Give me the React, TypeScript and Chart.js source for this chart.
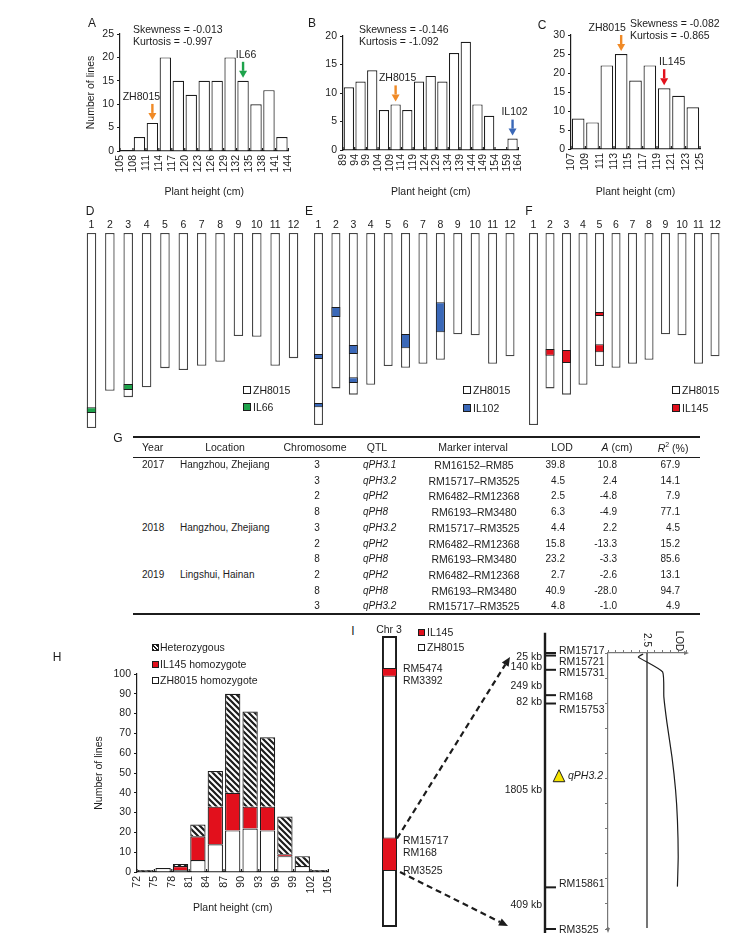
import React, { useEffect, useRef } from 'react';
import { Chart, registerables } from 'chart.js';

Chart.register(...registerables);

const FONT = '"Liberation Sans", Arial, Helvetica, sans-serif';
const INK = '#1c1c1c';
const ORANGE = '#f08a26';
const GREEN = '#1ea34b';
const BLUE = '#3a68b8';
const RED = '#e2101c';
const YELLOW = '#f6e400';

// ---------- Panel A ----------
const binEdgesA = [105, 108, 111, 114, 117, 120, 123, 126, 129, 132, 135, 138, 141, 144];
const linesA = [0, 3, 6, 20, 15, 12, 15, 15, 20, 15, 10, 13, 3];
const parentLabelsA = ['ZH8015', 'IL66'];
const parentBinsA = [111, 132];

// ---------- Panel B ----------
const binEdgesB = [89, 94, 99, 104, 109, 114, 119, 124, 129, 134, 139, 144, 149, 154, 159, 164];
const linesB = [11, 12, 14, 7, 8, 7, 12, 13, 12, 17, 19, 8, 6, 0, 2];
const parentLabelsB = ['ZH8015', 'IL102'];
const parentBinsB = [109, 159];

// ---------- Panel C ----------
const binEdgesC = [107, 109, 111, 113, 115, 117, 119, 121, 123, 125];
const linesC = [8, 7, 22, 25, 18, 22, 16, 14, 11];
const parentLabelsC = ['ZH8015', 'IL145'];
const parentBinsC = [113, 119];

// ---------- Panels D-F (chromosomes, Mb) ----------
const chromosomes = ['1', '2', '3', '4', '5', '6', '7', '8', '9', '10', '11', '12'];
const chrLengthMb = [43.0, 34.8, 36.2, 34.0, 29.8, 30.2, 29.3, 28.4, 22.7, 22.9, 29.3, 27.6];
const segChrIL66 = ['1', '3'];
const segStartIL66 = [38.4, 33.3];
const segEndIL66 = [39.7, 34.6];
const segChrIL102 = ['1', '1', '2', '3', '3', '6', '8'];
const segStartIL102 = [27.1, 38.1, 16.6, 25.1, 32.3, 22.6, 15.5];
const segEndIL102 = [28.2, 39.0, 18.8, 27.1, 33.6, 25.8, 22.2];
const segChrIL145 = ['2', '3', '5', '5'];
const segStartIL145 = [26.0, 26.2, 17.7, 24.9];
const segEndIL145 = [27.5, 29.1, 18.6, 26.7];

// ---------- Panel G (table) ----------
const tblYear = ['2017', '', '', '', '2018', '', '', '2019', '', ''];
const tblLocation = ['Hangzhou, Zhejiang', '', '', '', 'Hangzhou, Zhejiang', '', '', 'Lingshui, Hainan', '', ''];
const tblChromosome = ['3', '3', '2', '8', '3', '2', '8', '2', '8', '3'];
const tblQTL = ['qPH3.1', 'qPH3.2', 'qPH2', 'qPH8', 'qPH3.2', 'qPH2', 'qPH8', 'qPH2', 'qPH8', 'qPH3.2'];
const tblMarker = ['RM16152–RM85', 'RM15717–RM3525', 'RM6482–RM12368', 'RM6193–RM3480', 'RM15717–RM3525',
  'RM6482–RM12368', 'RM6193–RM3480', 'RM6482–RM12368', 'RM6193–RM3480', 'RM15717–RM3525'];
const tblLOD = ['39.8', '4.5', '2.5', '6.3', '4.4', '15.8', '23.2', '2.7', '40.9', '4.8'];
const tblA = ['10.8', '2.4', '-4.8', '-4.9', '2.2', '-13.3', '-3.3', '-2.6', '-28.0', '-1.0'];
const tblR2 = ['67.9', '14.1', '7.9', '77.1', '4.5', '15.2', '85.6', '13.1', '94.7', '4.9'];

// ---------- Panel H ----------
const binEdgesH = [72, 75, 78, 81, 84, 87, 90, 93, 96, 99, 102, 105];
const zh8015HomH = [0, 2, 1, 6, 14, 21, 22, 21, 8, 3, 0];
const il145HomH = [0, 0, 2, 12, 19, 19, 11, 12, 1, 0, 0];
const heteroH = [1, 0, 1, 6, 18, 50, 48, 35, 19, 5, 1];

// ---------- Panel I ----------
const chr3LengthMb = 36.4;
const chr3SegStart = [4.0, 25.2];
const chr3SegEnd = [5.1, 29.4];
const chr3LabelNames = ['RM5474', 'RM3392', 'RM15717', 'RM168', 'RM3525'];
const chr3LabelMb = [4.1, 5.7, 25.6, 27.2, 29.4];
const markerNames = ['RM15717', 'RM15721', 'RM15731', 'RM168', 'RM15753', 'RM15861', 'RM3525'];
const markerGapsKb = [25, 140, 249, 82, 1805, 409];
const lodPositionKb = [10, 40, 186, 431, 686, 1020, 1343, 1637, 2000, 2294];
const lodScores = [2.25, 1.95, 3.5, 3.58, 3.78, 4.1, 4.33, 4.45, 4.5, 4.45];
const lodThreshold = 2.5;
const qtlPeakKb = 1210;

// ---------- layout ----------
type Rect = { left: number; top: number; width: number; height: number };
type Area = { left: number; top: number; right: number; bottom: number };

const CV: Record<string, Rect> = {
  A: { left: 55, top: 0, width: 250, height: 200 },
  B: { left: 290, top: 0, width: 245, height: 200 },
  C: { left: 520, top: 0, width: 223, height: 200 },
  D: { left: 80, top: 215, width: 225, height: 218 },
  E: { left: 300, top: 215, width: 225, height: 215 },
  F: { left: 520, top: 215, width: 223, height: 215 },
  H: { left: 50, top: 640, width: 295, height: 297 },
  I1: { left: 372, top: 625, width: 100, height: 312 },
  I2: { left: 395, top: 620, width: 348, height: 317 },
};
const AR: Record<string, Area> = {
  A: { left: 120, top: 34, right: 294, bottom: 151 },
  B: { left: 343, top: 36, right: 527, bottom: 150 },
  C: { left: 571, top: 35, right: 700, bottom: 149 },
  D: { left: 82.3, top: 233, right: 302.7, bottom: 428 },
  E: { left: 309.8, top: 233, right: 518.7, bottom: 425 },
  F: { left: 525.25, top: 233, right: 723.25, bottom: 425 },
  H: { left: 137, top: 674, right: 337, bottom: 872 },
  I1: { left: 372, top: 636, right: 407, bottom: 927 },
  I2: { left: 608, top: 653, right: 686, bottom: 929 },
};

const font = (size: number, style = 'normal') => ({ family: FONT, size, style });

function drawArrow(ctx: CanvasRenderingContext2D, x1: number, y1: number, x2: number, y2: number,
  color: string, lw: number, headL: number, headW: number, dash: number[] = []) {
  const ang = Math.atan2(y2 - y1, x2 - x1);
  const bx = x2 - headL * Math.cos(ang);
  const by = y2 - headL * Math.sin(ang);
  ctx.save();
  ctx.strokeStyle = color;
  ctx.fillStyle = color;
  ctx.lineWidth = lw;
  ctx.setLineDash(dash);
  ctx.beginPath();
  ctx.moveTo(x1, y1);
  ctx.lineTo(bx, by);
  ctx.stroke();
  ctx.setLineDash([]);
  ctx.beginPath();
  ctx.moveTo(x2, y2);
  ctx.lineTo(bx + (headW / 2) * Math.sin(ang), by - (headW / 2) * Math.cos(ang));
  ctx.lineTo(bx - (headW / 2) * Math.sin(ang), by + (headW / 2) * Math.cos(ang));
  ctx.closePath();
  ctx.fill();
  ctx.restore();
}

const inwardTicks = {
  id: 'inwardTicks',
  afterDatasetsDraw(chart: any, _a: any, opts: any) {
    if (!opts || !opts.len) return;
    const s = chart.scales.x;
    const ctx = chart.ctx;
    ctx.save();
    ctx.strokeStyle = INK;
    ctx.lineWidth = 1.2;
    s.ticks.forEach((t: any) => {
      const x = s.getPixelForValue(t.value);
      ctx.beginPath();
      ctx.moveTo(x, s.top);
      ctx.lineTo(x, s.top - opts.len);
      ctx.stroke();
    });
    ctx.restore();
  },
};

const parentArrows = {
  id: 'parentArrows',
  afterDatasetsDraw(chart: any, _a: any, opts: any) {
    const items = (opts && opts.items) || [];
    const xs = chart.scales.x;
    const ys = chart.scales.y;
    const ctx = chart.ctx;
    items.forEach((it: any) => {
      const x = xs.getPixelForValue(it.x);
      const tip = ys.getPixelForValue(it.y) - 3;
      const tail = tip - 16;
      drawArrow(ctx, x, tail, x, tip, it.color, 2.4, 7, 8);
      ctx.save();
      ctx.font = `10.5px ${FONT}`;
      ctx.fillStyle = INK;
      ctx.textAlign = 'center';
      ctx.textBaseline = 'middle';
      ctx.fillText(it.label, x + (it.dx || 0), tail - 7);
      ctx.restore();
    });
  },
};

function histogramConfig(o: any) {
  const edges: number[] = o.edges;
  const w = edges[1] - edges[0];
  const cv: Rect = o.canvas;
  const ar: Area = o.area;
  const yW = ar.left - cv.left;
  const xH = cv.top + cv.height - ar.bottom;
  const datasets = o.series.map((s: any) => ({
    data: s.values.map((v: number, i: number) => ({ x: edges[i] + w / 2, y: v === 0 ? null : v })),
    backgroundColor: s.fill,
    borderColor: INK,
    borderWidth: 1.2,
    barPercentage: 0.88,
    categoryPercentage: 1,
  }));
  const totals = edges.slice(0, -1).map((_e, i) => o.series.reduce((acc: number, s: any) => acc + s.values[i], 0));
  const items = (o.parents || []).map((p: any) => ({
    ...p,
    x: p.bin + w / 2,
    y: totals[edges.indexOf(p.bin)],
  }));
  return {
    type: 'bar',
    data: { datasets },
    options: {
      responsive: false,
      animation: false,
      events: [],
      layout: { padding: { left: 0, top: ar.top - cv.top, right: cv.left + cv.width - ar.right, bottom: 0 } },
      plugins: {
        legend: { display: false },
        tooltip: { enabled: false },
        parentArrows: { items },
        inwardTicks: { len: 3 },
      },
      scales: {
        x: {
          type: 'linear',
          min: edges[0],
          max: edges[edges.length - 1],
          offset: false,
          stacked: !!o.stacked,
          grid: { drawOnChartArea: false, drawTicks: false, offset: false },
          border: { color: INK, width: 1.2 },
          ticks: { stepSize: w, autoSkip: false, minRotation: 90, maxRotation: 90, padding: 4, color: INK, font: font(10.5) },
          title: { display: true, text: 'Plant height (cm)', color: INK, font: font(10.5), padding: { top: 0, bottom: o.xTitlePad } },
          afterFit: (s: any) => { s.height = xH; },
        },
        y: {
          min: 0,
          max: o.yMax,
          stacked: !!o.stacked,
          grid: { drawOnChartArea: false, tickLength: 3, color: INK },
          border: { color: INK, width: 1.2 },
          ticks: { stepSize: o.yStep, padding: 3, color: INK, font: font(10.5) },
          title: { display: !!o.yTitle, text: o.yTitle || '', color: INK, font: font(10.5), padding: { top: o.yTitlePad || 0, bottom: 0 } },
          afterFit: (s: any) => { s.width = yW; },
        },
      },
    },
    plugins: [inwardTicks, parentArrows],
  };
}

function chromConfig(cv: Rect, ar: Area, segChr: string[], segStart: number[], segEnd: number[], color: string, bp: number) {
  return {
    type: 'bar',
    data: {
      labels: chromosomes,
      datasets: [
        {
          data: segChr.map((c, i) => ({ x: c, y: [segStart[i], segEnd[i]] })),
          backgroundColor: color,
          borderColor: INK,
          borderWidth: 1,
          borderSkipped: false,
          grouped: false,
          order: 0,
          barPercentage: bp,
          categoryPercentage: 1,
        },
        {
          data: chrLengthMb.map((l, i) => ({ x: chromosomes[i], y: [0, l] })),
          backgroundColor: '#ffffff',
          borderColor: '#454545',
          borderWidth: 1.3,
          borderSkipped: false,
          grouped: false,
          order: 1,
          barPercentage: bp,
          categoryPercentage: 1,
        },
      ],
    },
    options: {
      responsive: false,
      animation: false,
      events: [],
      layout: { padding: { left: ar.left - cv.left, right: cv.left + cv.width - ar.right, top: 0, bottom: cv.top + cv.height - ar.bottom } },
      plugins: { legend: { display: false }, tooltip: { enabled: false } },
      scales: {
        x: {
          position: 'top',
          grid: { display: false, drawTicks: false },
          border: { display: false },
          ticks: { font: font(10.5), color: INK, padding: 2, maxRotation: 0, autoSkip: false },
          afterFit: (s: any) => { s.height = ar.top - cv.top; },
        },
        y: { display: false, reverse: true, min: 0, max: 43 },
      },
    },
  };
}

function makeHatch(): CanvasPattern | string {
  const c = document.createElement('canvas');
  c.width = 6;
  c.height = 6;
  const g = c.getContext('2d');
  if (!g) return '#888';
  g.fillStyle = '#fff';
  g.fillRect(0, 0, 6, 6);
  g.strokeStyle = INK;
  g.lineWidth = 2.2;
  g.beginPath();
  g.moveTo(-1, -1); g.lineTo(7, 7);
  g.moveTo(-1, 5); g.lineTo(1, 7);
  g.moveTo(5, -1); g.lineTo(7, 1);
  g.stroke();
  return g.createPattern(c, 'repeat') || '#888';
}

const Txt = (p: any) => {
  const tx = p.align === 'center' ? '-50%' : p.align === 'right' ? '-100%' : '0';
  return (
    <div style={{
      position: 'absolute', left: p.x, top: p.y, transform: `translate(${tx}, -50%)`,
      fontSize: p.size || 10.5, lineHeight: 1, whiteSpace: 'nowrap',
      fontStyle: p.italic ? 'italic' : 'normal', color: INK,
    }}>{p.children}</div>
  );
};

const Swatch = (p: any) => (
  <div style={{
    position: 'absolute', left: p.x, top: p.y - p.size / 2, width: p.size, height: p.size,
    boxSizing: 'border-box', border: `1px solid ${INK}`, background: p.bg,
  }} />
);

const HATCH_CSS = `repeating-linear-gradient(45deg, ${INK} 0 1.2px, #fff 1.2px 2.8px)`;

export default function App() {
  const refs: Record<string, React.RefObject<HTMLCanvasElement | null>> = {
    A: useRef<HTMLCanvasElement>(null),
    B: useRef<HTMLCanvasElement>(null),
    C: useRef<HTMLCanvasElement>(null),
    D: useRef<HTMLCanvasElement>(null),
    E: useRef<HTMLCanvasElement>(null),
    F: useRef<HTMLCanvasElement>(null),
    H: useRef<HTMLCanvasElement>(null),
    I1: useRef<HTMLCanvasElement>(null),
    I2: useRef<HTMLCanvasElement>(null),
  };

  useEffect(() => {
    const charts: Chart[] = [];
    const mk = (k: string, cfg: any) => {
      const el = refs[k].current;
      if (!el) return null;
      const c = new Chart(el, cfg);
      charts.push(c);
      return c;
    };

    mk('A', histogramConfig({
      edges: binEdgesA, series: [{ values: linesA, fill: '#fff' }], yMax: 25, yStep: 5,
      canvas: CV.A, area: AR.A, yTitle: 'Number of lines', yTitlePad: 30, xTitlePad: 2,
      parents: [
        { label: parentLabelsA[0], bin: parentBinsA[0], color: ORANGE, dx: -11 },
        { label: parentLabelsA[1], bin: parentBinsA[1], color: GREEN, dx: 3 },
      ],
    }));
    mk('B', histogramConfig({
      edges: binEdgesB, series: [{ values: linesB, fill: '#fff' }], yMax: 20, yStep: 5,
      canvas: CV.B, area: AR.B, xTitlePad: 2,
      parents: [
        { label: parentLabelsB[0], bin: parentBinsB[0], color: ORANGE, dx: 2 },
        { label: parentLabelsB[1], bin: parentBinsB[1], color: BLUE, dx: 2 },
      ],
    }));
    mk('C', histogramConfig({
      edges: binEdgesC, series: [{ values: linesC, fill: '#fff' }], yMax: 30, yStep: 5,
      canvas: CV.C, area: AR.C, xTitlePad: 2,
      parents: [
        { label: parentLabelsC[0], bin: parentBinsC[0], color: ORANGE, dx: -14 },
        { label: parentLabelsC[1], bin: parentBinsC[1], color: RED, dx: 8 },
      ],
    }));

    mk('D', chromConfig(CV.D, AR.D, segChrIL66, segStartIL66, segEndIL66, GREEN, 0.52));
    mk('E', chromConfig(CV.E, AR.E, segChrIL102, segStartIL102, segEndIL102, BLUE, 0.52));
    mk('F', chromConfig(CV.F, AR.F, segChrIL145, segStartIL145, segEndIL145, RED, 0.55));

    const hatch = makeHatch();
    mk('H', histogramConfig({
      edges: binEdgesH,
      series: [
        { values: zh8015HomH, fill: '#fff' },
        { values: il145HomH, fill: RED },
        { values: heteroH, fill: hatch },
      ],
      stacked: true, yMax: 100, yStep: 10,
      canvas: CV.H, area: AR.H, yTitle: 'Number of lines', yTitlePad: 43, xTitlePad: 23,
    }));

    // Panel I: chromosome 3
    const chrLabels = {
      id: 'chrLabels',
      afterDraw(chart: any) {
        const ctx = chart.ctx;
        const ys = chart.scales.y;
        const bar = chart.getDatasetMeta(1).data[0];
        const x = bar.x + bar.width / 2 + 6;
        ctx.save();
        ctx.font = `10.5px ${FONT}`;
        ctx.fillStyle = INK;
        ctx.textAlign = 'left';
        ctx.textBaseline = 'middle';
        chr3LabelNames.forEach((n, i) => ctx.fillText(n, x, ys.getPixelForValue(chr3LabelMb[i])));
        ctx.restore();
      },
    };
    const cvI1 = CV.I1, arI1 = AR.I1;
    const chrI = mk('I1', {
      type: 'bar',
      data: {
        labels: ['3'],
        datasets: [
          {
            data: chr3SegStart.map((s, i) => ({ x: '3', y: [s, chr3SegEnd[i]] })),
            backgroundColor: RED, borderColor: INK, borderWidth: 1, borderSkipped: false,
            grouped: false, order: 0, barPercentage: 0.43, categoryPercentage: 1,
          },
          {
            data: [{ x: '3', y: [0, chr3LengthMb] }],
            backgroundColor: '#fff', borderColor: INK, borderWidth: 2, borderSkipped: false,
            grouped: false, order: 1, barPercentage: 0.43, categoryPercentage: 1,
          },
        ],
      },
      options: {
        responsive: false, animation: false, events: [],
        layout: { padding: { left: arI1.left - cvI1.left, right: cvI1.left + cvI1.width - arI1.right, top: arI1.top - cvI1.top, bottom: cvI1.top + cvI1.height - arI1.bottom } },
        plugins: { legend: { display: false }, tooltip: { enabled: false } },
        scales: {
          x: { display: false },
          y: { display: false, reverse: true, min: 0, max: chr3LengthMb },
        },
      },
      plugins: [chrLabels],
    });

    const cvI2 = CV.I2, arI2 = AR.I2;
    const markerKb = markerGapsKb.reduce((acc: number[], g) => { acc.push(acc[acc.length - 1] + g); return acc; }, [0]);
    const kbEnd = markerKb[markerKb.length - 1];
    const nameDy = [-2, 6.5, 3, 2, 6.5, -3, 1];
    const gapDy = [3, 4, 3.5, 3, -5, -3];
    const physMap = {
      id: 'physMap',
      afterDraw(chart: any) {
        const ctx = chart.ctx;
        const ys = chart.scales.y;
        const xs = chart.scales.x;
        const ca = chart.chartArea;
        const lx = ca.left - 63;
        const py = (v: number) => ys.getPixelForValue(v);
        ctx.save();
        ctx.strokeStyle = INK;
        ctx.lineWidth = 2.4;
        ctx.beginPath();
        ctx.moveTo(lx, py(-200));
        ctx.lineTo(lx, py(kbEnd + 40));
        ctx.stroke();
        ctx.lineWidth = 2;
        markerKb.forEach((k) => {
          ctx.beginPath();
          ctx.moveTo(lx, py(k));
          ctx.lineTo(lx + 11, py(k));
          ctx.stroke();
        });
        ctx.font = `10.5px ${FONT}`;
        ctx.fillStyle = INK;
        ctx.textBaseline = 'middle';
        ctx.textAlign = 'left';
        markerNames.forEach((n, i) => ctx.fillText(n, lx + 14, py(markerKb[i]) + nameDy[i]));
        ctx.textAlign = 'right';
        markerGapsKb.forEach((g, i) => ctx.fillText(`${g} kb`, lx - 3, py((markerKb[i] + markerKb[i + 1]) / 2) + gapDy[i]));
        // QTL triangle
        const tx = lx + 14, ty = py(qtlPeakKb);
        ctx.beginPath();
        ctx.moveTo(tx, ty - 6.5);
        ctx.lineTo(tx + 5.8, ty + 5.5);
        ctx.lineTo(tx - 5.8, ty + 5.5);
        ctx.closePath();
        ctx.fillStyle = YELLOW;
        ctx.fill();
        ctx.lineWidth = 1;
        ctx.strokeStyle = INK;
        ctx.stroke();
        ctx.fillStyle = INK;
        ctx.textAlign = 'left';
        ctx.font = `italic 10.5px ${FONT}`;
        ctx.fillText('qPH3.2', tx + 9, ty);
        // LOD axis labels (rotated)
        ctx.font = `10px ${FONT}`;
        const rot = (t: string, x: number, y: number) => {
          ctx.save();
          ctx.translate(x, y);
          ctx.rotate(Math.PI / 2);
          ctx.textAlign = 'center';
          ctx.textBaseline = 'middle';
          ctx.fillText(t, 0, 0);
          ctx.restore();
        };
        rot(String(lodThreshold), xs.getPixelForValue(lodThreshold), ca.top - 13);
        rot('LOD', xs.getPixelForValue(4.55), ca.top - 12);
        // axis arrow heads
        drawArrow(ctx, ca.right - 2, ca.top, ca.right + 3, ca.top, '#777', 1.2, 5, 4);
        drawArrow(ctx, ca.left, ca.bottom - 2, ca.left, ca.bottom + 4, '#777', 1.2, 5, 4);
        // dashed arrows from chromosome 3
        if (chrI) {
          const bar: any = chrI.getDatasetMeta(1).data[0];
          const cys: any = chrI.scales.y;
          const dx = cvI1.left - cvI2.left;
          const dy = cvI1.top - cvI2.top;
          const sx = bar.x + bar.width / 2 + dx;
          drawArrow(ctx, sx, cys.getPixelForValue(chr3SegStart[1]) + dy + 1, lx - 35, py(0) + 4, INK, 2.2, 9, 8, [6, 4]);
          drawArrow(ctx, sx + 3, cys.getPixelForValue(chr3SegEnd[1]) + dy + 1, lx - 37, py(kbEnd) - 3, INK, 2.2, 9, 8, [6, 4]);
        }
        ctx.restore();
      },
    };
    mk('I2', {
      type: 'line',
      data: {
        datasets: [
          {
            data: lodPositionKb.map((k, i) => ({ x: lodScores[i], y: k })),
            borderColor: INK, borderWidth: 1.2, pointRadius: 0, tension: 0.15, fill: false,
          },
          {
            data: [{ x: lodThreshold, y: 0 }, { x: lodThreshold, y: kbEnd - 10 }],
            borderColor: INK, borderWidth: 1.2, pointRadius: 0, fill: false,
          },
        ],
      },
      options: {
        responsive: false, animation: false, events: [],
        layout: { padding: { left: arI2.left - cvI2.left, top: arI2.top - cvI2.top, right: cvI2.left + cvI2.width - arI2.right, bottom: cvI2.top + cvI2.height - arI2.bottom } },
        plugins: { legend: { display: false }, tooltip: { enabled: false } },
        scales: {
          x: {
            type: 'linear', position: 'top', min: 0, max: 5,
            ticks: { display: false, stepSize: 0.5 },
            grid: { drawOnChartArea: false, tickLength: 3, color: '#777' },
            border: { color: '#777', width: 1.2 },
            afterFit: (s: any) => { s.height = 0; },
          },
          y: {
            type: 'linear', reverse: true, min: 0, max: kbEnd,
            ticks: { display: false, stepSize: 250 },
            grid: { drawOnChartArea: false, tickLength: 3, color: '#777' },
            border: { color: '#777', width: 1.2 },
            afterFit: (s: any) => { s.width = 0; },
          },
        },
      },
      plugins: [physMap],
    });

    return () => charts.forEach((c) => c.destroy());
  }, []);

  const canvas = (k: string) => (
    <canvas key={k} ref={refs[k] as any} width={CV[k].width} height={CV[k].height}
      style={{ position: 'absolute', left: CV[k].left, top: CV[k].top, width: CV[k].width, height: CV[k].height }} />
  );

  const rowY = (i: number) => 465 + i * 15.7;
  const line = (top: number, h: number) => (
    <div style={{ position: 'absolute', left: 133, width: 567, top, height: h, background: INK }} />
  );

  return (
    <div style={{ position: 'absolute', left: 0, top: 0, width: 743, height: 937, background: '#fff', fontFamily: FONT, color: INK, overflow: 'hidden' }}>
      {['A', 'B', 'C', 'D', 'E', 'F', 'H', 'I1', 'I2'].map(canvas)}

      {/* panel letters */}
      <Txt x={92} y={23} align="center" size={12}>A</Txt>
      <Txt x={312} y={23} align="center" size={12}>B</Txt>
      <Txt x={542} y={25} align="center" size={12}>C</Txt>
      <Txt x={90} y={211} align="center" size={12}>D</Txt>
      <Txt x={309} y={211} align="center" size={12}>E</Txt>
      <Txt x={529} y={211} align="center" size={12}>F</Txt>
      <Txt x={118} y={438} align="center" size={12}>G</Txt>
      <Txt x={57} y={657} align="center" size={12}>H</Txt>
      <Txt x={353} y={631} align="center" size={12}>I</Txt>

      {/* statistics */}
      <Txt x={133} y={29}>Skewness = -0.013</Txt>
      <Txt x={133} y={41}>Kurtosis = -0.997</Txt>
      <Txt x={359} y={29}>Skewness = -0.146</Txt>
      <Txt x={359} y={41}>Kurtosis = -1.092</Txt>
      <Txt x={630} y={23}>Skewness = -0.082</Txt>
      <Txt x={630} y={35}>Kurtosis = -0.865</Txt>

      {/* legends D E F */}
      <Swatch x={243} y={390} size={8} bg="#fff" />
      <Txt x={253} y={390}>ZH8015</Txt>
      <Swatch x={243} y={407} size={8} bg={GREEN} />
      <Txt x={253} y={407}>IL66</Txt>
      <Swatch x={463} y={390} size={8} bg="#fff" />
      <Txt x={473} y={390}>ZH8015</Txt>
      <Swatch x={463} y={408} size={8} bg={BLUE} />
      <Txt x={473} y={408}>IL102</Txt>
      <Swatch x={672} y={390} size={8} bg="#fff" />
      <Txt x={682} y={390}>ZH8015</Txt>
      <Swatch x={672} y={408} size={8} bg={RED} />
      <Txt x={682} y={408}>IL145</Txt>

      {/* table G */}
      {line(436, 2)}
      {line(456.5, 1.4)}
      {line(613, 2)}
      <Txt x={142} y={447} size={10.5}>Year</Txt>
      <Txt x={225} y={447} size={10.5} align="center">Location</Txt>
      <Txt x={315} y={447} size={10.5} align="center">Chromosome</Txt>
      <Txt x={377} y={447} size={10.5} align="center">QTL</Txt>
      <Txt x={473} y={447} size={10.5} align="center">Marker interval</Txt>
      <Txt x={562} y={447} size={10.5} align="center">LOD</Txt>
      <Txt x={617} y={447} size={10.5} align="center"><i>A</i> (cm)</Txt>
      <Txt x={673} y={447} size={10.5} align="center"><i>R</i><sup style={{ fontSize: 7 }}>2</sup> (%)</Txt>
      {tblYear.map((v, i) => v ? <Txt key={'yr' + i} x={142} y={rowY(i)} size={10}>{v}</Txt> : null)}
      {tblLocation.map((v, i) => v ? <Txt key={'lc' + i} x={180} y={rowY(i)} size={10}>{v}</Txt> : null)}
      {tblChromosome.map((v, i) => <Txt key={'ch' + i} x={317} y={rowY(i)} size={10} align="center">{v}</Txt>)}
      {tblQTL.map((v, i) => <Txt key={'q' + i} x={363} y={rowY(i)} size={10} italic>{v}</Txt>)}
      {tblMarker.map((v, i) => <Txt key={'m' + i} x={474} y={rowY(i)} size={10.5} align="center">{v}</Txt>)}
      {tblLOD.map((v, i) => <Txt key={'l' + i} x={565} y={rowY(i)} size={10} align="right">{v}</Txt>)}
      {tblA.map((v, i) => <Txt key={'a' + i} x={617} y={rowY(i)} size={10} align="right">{v}</Txt>)}
      {tblR2.map((v, i) => <Txt key={'r' + i} x={680} y={rowY(i)} size={10} align="right">{v}</Txt>)}

      {/* legend H */}
      <Swatch x={152} y={647} size={7} bg={HATCH_CSS} />
      <Txt x={160} y={647}>Heterozygous</Txt>
      <Swatch x={152} y={664} size={7} bg={RED} />
      <Txt x={160} y={664}>IL145 homozygote</Txt>
      <Swatch x={152} y={680} size={7} bg="#fff" />
      <Txt x={160} y={680}>ZH8015 homozygote</Txt>

      {/* panel I labels */}
      <Txt x={389} y={629} align="center">Chr 3</Txt>
      <Swatch x={418} y={632} size={7} bg={RED} />
      <Txt x={427} y={632}>IL145</Txt>
      <Swatch x={418} y={647} size={7} bg="#fff" />
      <Txt x={427} y={647}>ZH8015</Txt>
    </div>
  );
}
